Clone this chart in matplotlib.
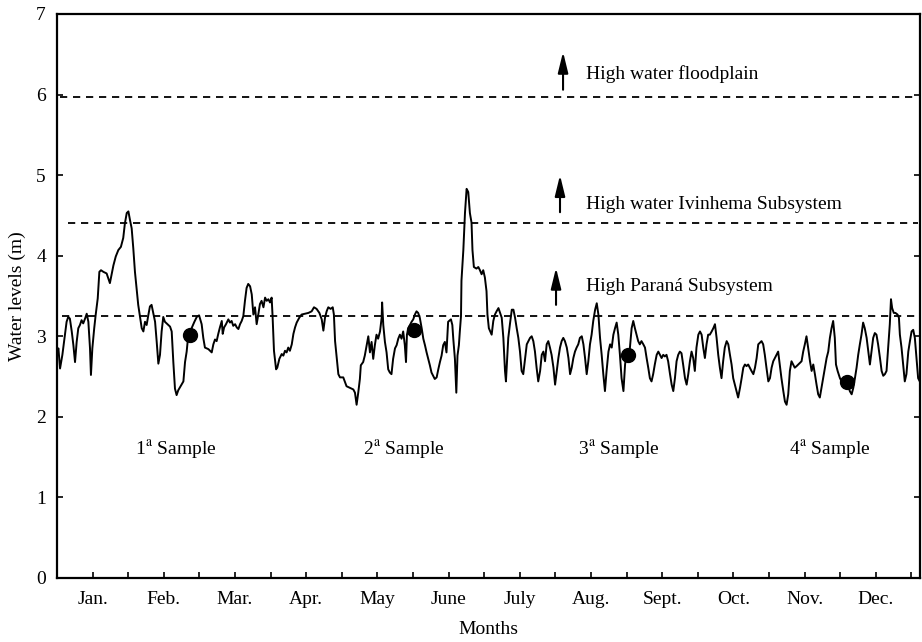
import numpy as np
import matplotlib
matplotlib.use('Agg')
import matplotlib.pyplot as plt

#########################################################################################
# Data read from the chart...
#########################################################################################
day_of_year = [
    0.0, 0.6, 1.3, 2.3, 3.4, 4.1, 4.8, 5.5, 6.3, 7.0, 7.7, 8.4, 9.1, 9.8, 10.5, 11.2, 12.0, 12.7,
    13.4, 14.1, 14.5, 15.1, 15.9, 16.5, 17.4, 18.1, 18.8, 19.8, 21.2, 22.6, 23.4, 24.1, 25.1, 26.2,
    27.3, 28.3, 29.0, 29.8, 30.5, 31.2, 31.9, 32.6, 33.3, 34.0, 34.7, 35.5, 36.2, 36.9, 37.6, 38.3,
    39.0, 39.7, 40.4, 41.2, 41.9, 42.6, 43.3, 44.0, 44.7, 45.4, 46.1, 47.6, 48.3, 49.0, 49.7, 50.4,
    51.1, 51.8, 53.0, 54.0, 54.7, 55.4, 56.1, 57.5, 58.7, 59.7, 60.7,
    61.8, 62.5, 63.2, 64.7, 66.1, 66.8, 67.5, 68.2, 68.9, 69.6, 70.4, 70.8, 71.4, 72.2, 73.2, 73.9,
    74.6, 75.3, 76.1, 76.8, 77.5, 78.2, 78.9, 79.6, 80.3, 81.0, 81.7, 82.5, 83.2, 83.9, 84.6, 85.3,
    86.0, 86.7, 87.4, 88.2, 88.9, 89.6, 90.3, 91.0, 91.7, 92.1, 92.7, 93.6, 94.1, 95.0, 96.0, 96.7,
    97.4, 98.1, 98.8, 99.5, 100.3, 101.0, 101.7, 102.4, 103.5, 104.5, 105.9, 107.4, 108.8, 109.8,
    110.9, 112.1, 113.1, 113.8, 114.5, 115.2, 115.9, 116.9, 117.8, 118.3, 118.8, 119.5, 120.2,
    120.9, 122.3,
    123.7, 125.1, 126.6, 127.3, 128.0, 128.7, 129.4, 129.8, 130.8, 131.5, 132.3, 133.0, 133.7,
    134.4, 135.1, 135.8, 136.5, 137.2, 138.0, 138.7, 138.9, 139.4, 140.1, 140.8, 141.5, 142.2,
    142.9, 143.6, 144.4, 145.1, 145.8, 146.5, 147.2, 147.9, 148.6, 149.1, 149.5, 150.1, 150.8,
    151.5, 152.2, 152.9, 153.6, 154.3, 155.0, 155.8, 156.5, 157.2, 157.9, 158.6, 159.3, 160.0,
    160.7, 161.4, 162.2, 162.9, 163.6, 164.3, 165.0, 165.7, 166.4, 167.1, 168.3, 168.9, 169.3,
    170.0, 170.6, 171.1, 171.7, 172.1, 172.6, 172.8, 173.6, 174.3, 175.0, 175.7, 176.4, 177.1,
    177.5, 178.1, 179.2, 180.0, 180.7, 181.4, 182.1, 182.8, 183.5, 183.9, 184.5,
    185.7, 186.4, 187.1, 187.8, 188.6, 189.3, 190.0, 190.7, 191.4, 191.8, 192.4, 192.8, 193.5,
    194.3, 195.0, 195.7, 196.4, 197.1, 197.8, 198.5, 199.2, 200.0, 200.7, 201.4, 202.1, 202.8,
    203.5, 204.2, 204.9, 205.6, 206.4, 207.1, 207.8, 208.5, 209.2, 209.9, 210.6, 211.3, 212.1,
    212.8, 213.5, 214.2, 214.9, 215.6, 216.3, 217.0, 217.8, 218.5, 219.2, 219.9, 220.6, 221.3,
    222.0, 222.7, 223.4, 224.2, 224.9, 225.6, 226.3, 227.0, 227.7, 228.4, 229.1, 229.9, 230.6,
    231.3, 232.0, 232.7, 233.4, 234.1, 234.8, 235.6, 236.3, 237.0, 237.7, 238.4, 239.1, 239.8,
    240.5, 241.2, 242.0, 242.7, 243.4, 244.5, 245.5, 246.2,
    246.9, 247.6, 248.3, 249.0, 249.7, 250.5, 251.2, 251.9, 252.6, 253.3, 254.0, 254.7, 255.4,
    256.2, 256.9, 257.6, 258.3, 259.0, 259.7, 260.4, 261.1, 261.9, 262.6, 263.3, 264.0, 264.7,
    265.4, 266.1, 266.8, 267.5, 268.3, 269.0, 269.7, 270.4, 271.1, 271.8, 272.5, 273.2, 274.0,
    274.7, 275.4, 276.1, 276.8, 277.5, 278.2, 278.9, 279.7, 280.4, 281.1, 281.8, 282.5, 283.2,
    283.9, 284.6, 285.3, 286.1, 286.8, 287.5, 288.2, 288.9, 289.6, 290.3, 291.0, 291.8, 292.5,
    293.2, 293.9, 294.6, 295.3, 296.0, 296.7, 297.5, 298.2, 298.9, 299.6, 300.3, 301.0, 301.7,
    302.4, 303.1, 303.9, 304.6, 305.3, 306.0, 306.7, 307.4, 308.1,
    308.8, 309.5, 310.3, 311.0, 311.7, 312.4, 313.1, 313.8, 314.5, 315.2, 316.0, 316.7, 317.4,
    318.1, 318.8, 319.5, 320.2, 320.9, 321.7, 322.4, 323.1, 323.8, 324.5, 325.2, 325.9, 326.6,
    327.3, 328.1, 328.8, 329.5, 330.2, 330.9, 331.6, 332.3, 332.8, 333.5, 334.5, 335.2, 335.9,
    336.6, 337.3, 338.0, 338.7, 339.5, 340.2, 340.9, 341.6, 342.3, 343.0, 343.7, 344.4, 345.1,
    345.9, 346.6, 347.3, 348.0, 348.7, 349.4, 350.1, 350.8, 351.6, 352.3, 353.0, 353.7, 354.4,
    355.1, 355.8, 356.3, 356.8, 357.5, 358.2, 359.1, 359.7, 360.1, 360.8, 361.5, 362.2, 362.9,
    363.7, 364.4, 365.1, 365.8, 366.5, 367.2, 367.9, 368.6,
]
water_level = [
    2.80, 2.85, 2.60, 2.77, 3.02, 3.18, 3.24, 3.22, 3.06, 2.89, 2.68, 2.93, 3.10, 3.14, 3.20, 3.16, 3.22, 3.28,
    3.18, 2.85, 2.52, 2.85, 3.10, 3.26, 3.47, 3.80, 3.82, 3.80, 3.78, 3.66, 3.78, 3.88, 3.99, 4.07,
    4.11, 4.22, 4.40, 4.53, 4.55, 4.44, 4.34, 4.09, 3.80, 3.59, 3.39, 3.24, 3.10, 3.06, 3.18, 3.14,
    3.26, 3.37, 3.39, 3.28, 3.18, 2.93, 2.66, 2.77, 3.06, 3.24, 3.18, 3.14, 3.12, 3.06, 2.68, 2.35,
    2.27, 2.33, 2.39, 2.44, 2.68, 2.81, 3.02, 3.10, 3.18, 3.24, 3.26,
    3.15, 2.98, 2.86, 2.84, 2.80, 2.90, 2.96, 2.94, 3.03, 3.11, 3.19, 3.03, 3.11, 3.15, 3.21, 3.17,
    3.19, 3.13, 3.15, 3.11, 3.09, 3.15, 3.19, 3.25, 3.44, 3.60, 3.65, 3.62, 3.52, 3.27, 3.36, 3.15,
    3.27, 3.40, 3.44, 3.36, 3.48, 3.44, 3.46, 3.42, 3.48, 3.25, 2.82, 2.59, 2.61, 2.72, 2.78, 2.76,
    2.82, 2.80, 2.86, 2.82, 2.90, 3.03, 3.11, 3.17, 3.23, 3.27, 3.28, 3.29, 3.31, 3.36,
    3.34, 3.29, 3.21, 3.07, 3.23, 3.31, 3.36, 3.34, 3.36, 3.27, 2.94, 2.74, 2.53,
    2.49, 2.49,
    2.38, 2.36, 2.34, 2.30, 2.15, 2.30, 2.47, 2.64, 2.68, 2.76, 2.89, 3.00, 2.80,
    2.93, 2.72, 2.89, 3.02, 2.97, 3.06, 3.23, 3.42, 3.14, 2.93, 2.80, 2.59, 2.55,
    2.53, 2.72, 2.85, 2.89, 2.97, 3.02, 2.97, 3.06, 2.89, 2.68, 3.02, 3.10, 3.14,
    3.18, 3.21, 3.27, 3.31, 3.29, 3.23, 3.10, 2.97, 2.89, 2.80, 2.72, 2.64, 2.55,
    2.51, 2.47, 2.49, 2.59, 2.68, 2.76, 2.89, 2.93, 2.80, 3.18, 3.21, 3.14, 2.97,
    2.72, 2.30, 2.76, 2.89, 3.06, 3.25, 3.69, 4.07, 4.53, 4.83, 4.79, 4.53, 4.41,
    4.07, 3.86, 3.84, 3.86, 3.82, 3.77, 3.82, 3.73, 3.56, 3.27, 3.10,
    3.02, 3.19, 3.27, 3.31, 3.35, 3.29, 3.23, 2.98, 2.57, 2.44, 2.77, 2.98, 3.15,
    3.33, 3.33, 3.23, 3.10, 2.98, 2.81, 2.57, 2.53, 2.73, 2.90, 2.94, 2.98, 3.00,
    2.94, 2.81, 2.61, 2.44, 2.57, 2.77, 2.81, 2.69, 2.90, 2.94, 2.86, 2.77, 2.61,
    2.40, 2.57, 2.73, 2.86, 2.94, 2.98, 2.94, 2.86, 2.73, 2.53, 2.61, 2.73, 2.81,
    2.86, 2.90, 2.98, 3.00, 2.90, 2.73, 2.53, 2.69, 2.90, 3.02, 3.19, 3.33, 3.41,
    3.27, 2.98, 2.77, 2.53, 2.32, 2.57, 2.81, 2.90, 2.86, 3.02, 3.10, 3.17, 3.02,
    2.77, 2.48, 2.32, 2.65, 2.81, 2.77, 3.10, 3.19,
    3.10, 3.02, 2.94, 2.90, 2.94, 2.90, 2.86, 2.73, 2.61, 2.48, 2.44, 2.53, 2.65,
    2.77, 2.81, 2.77, 2.73, 2.77, 2.75, 2.77, 2.69, 2.53, 2.40, 2.32, 2.48, 2.69,
    2.77, 2.81, 2.79, 2.65, 2.48, 2.40, 2.53, 2.69, 2.81, 2.73, 2.57, 2.86, 3.02,
    3.06, 3.02, 2.86, 2.73, 2.90, 3.02, 3.02, 3.06, 3.10, 3.15, 2.98, 2.77, 2.61,
    2.48, 2.69, 2.86, 2.94, 2.90, 2.77, 2.65, 2.48, 2.40, 2.32, 2.24, 2.36, 2.48,
    2.61, 2.65, 2.63, 2.65, 2.61, 2.57, 2.53, 2.61, 2.73, 2.90, 2.92, 2.94, 2.90,
    2.77, 2.61, 2.44, 2.48, 2.61, 2.69, 2.73, 2.77, 2.81,
    2.65, 2.48, 2.32, 2.19, 2.15, 2.28, 2.57, 2.69, 2.65, 2.61, 2.63, 2.65, 2.67,
    2.69, 2.81, 2.90, 3.00, 2.86, 2.69, 2.57, 2.65, 2.53, 2.40, 2.28, 2.24, 2.36,
    2.48, 2.61, 2.73, 2.81, 2.98, 3.10, 3.19, 2.98, 2.65, 2.57, 2.48, 2.44, 2.40,
    2.44, 2.36, 2.40, 2.32, 2.28, 2.36, 2.48, 2.61, 2.77, 2.90, 3.02, 3.17, 3.10,
    2.98, 2.81, 2.65, 2.81, 2.98, 3.04, 3.02, 2.90, 2.73, 2.57, 2.51, 2.53, 2.57,
    2.86, 3.15, 3.46, 3.35, 3.29, 3.29, 3.27, 3.23, 3.02, 2.86, 2.65, 2.44, 2.53,
    2.81, 2.94, 3.06, 3.08, 2.98, 2.73, 2.48, 2.44,
]

sample_day = [56.8, 152.5, 244.0, 337.5]
sample_level = [3.02, 3.08, 2.77, 2.43]
sample_labels = ['1$^{\\mathrm{a}}$ Sample', '2$^{\\mathrm{a}}$ Sample',
                 '3$^{\\mathrm{a}}$ Sample', '4$^{\\mathrm{a}}$ Sample']
sample_label_day = [50.8, 148.0, 240.0, 330.0]

threshold_level = [5.97, 4.40, 3.25]
threshold_start = [1.3, 4.7, 2.1]
threshold_end = [367.8, 367.8, 366.5]
threshold_labels = ['High water floodplain', 'High water Ivinhema Subsystem', 'High Paraná Subsystem']
arrow_day = [216.2, 214.9, 213.2]
arrow_bottom = [6.06, 4.54, 3.39]
arrow_top = [6.53, 5.00, 3.85]
label_level = [6.26, 4.64, 3.62]

month_labels = ['Jan.', 'Feb.', 'Mar.', 'Apr.', 'May', 'June', 'July', 'Aug.', 'Sept.',
                'Oct.', 'Nov.', 'Dec.']
#########################################################################################

plt.rcParams['font.family'] = ['Liberation Serif', 'DejaVu Serif']
plt.rcParams['mathtext.fontset'] = 'stix'

month_len = 365 / 12

fig = plt.figure(figsize=(9.22, 6.42), dpi=100)
ax = fig.add_axes([57 / 922, 64 / 642, 863 / 922, 564 / 642])

ax.plot(day_of_year, water_level, color='black', lw=1.4)
ax.plot(sample_day, sample_level, 'o', color='black', ms=10)

for i in range(len(threshold_level)):
    ax.hlines(threshold_level[i], threshold_start[i], threshold_end[i], colors='black',
              linestyles=(0, (4.0, 3.2)), lw=1.3)
    ax.annotate('', xy=(arrow_day[i], arrow_top[i]), xytext=(arrow_day[i], arrow_bottom[i]),
                arrowprops=dict(arrowstyle='-|>,head_length=0.9,head_width=0.22',
                                color='black', lw=1.5, mutation_scale=14, shrinkA=0, shrinkB=0))
    ax.text(226, label_level[i], threshold_labels[i], fontsize=14, va='center', ha='left')

for i in range(len(sample_labels)):
    ax.text(sample_label_day[i], 1.6, sample_labels[i], fontsize=14, ha='center', va='center')

ax.set_xlim(0, 368.7)
ax.set_ylim(0, 7)
ax.set_xticks([(i + 0.5) * month_len for i in range(12)])
ax.set_xticklabels(month_labels, fontsize=14)
ax.set_xticks([(i + 1) * month_len for i in range(12)], minor=True)
ax.set_yticks(range(8))
ax.tick_params(axis='y', labelsize=14)
ax.tick_params(which='both', direction='in', length=4, width=1.2, right=True, pad=8)
ax.tick_params(axis='x', which='both', pad=9)
for s in ax.spines.values():
    s.set_linewidth(1.6)

ax.set_xlabel('Months', fontsize=14, labelpad=10)
ax.set_ylabel('Water levels (m)', fontsize=14, labelpad=7)

fig.savefig('out.png', dpi=100)
